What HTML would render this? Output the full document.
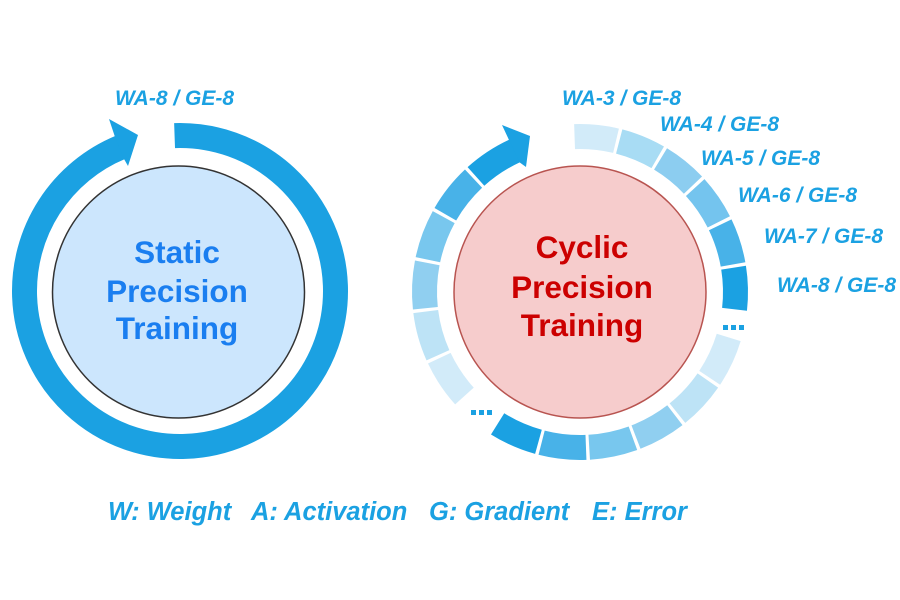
<!DOCTYPE html>
<html><head><meta charset="utf-8"><style>
html,body{margin:0;padding:0;background:#fff;}
svg{display:block;}
text{font-family:"Liberation Sans",Arial,sans-serif;font-weight:bold;}
.lb{font-style:italic;fill:#1ba1e2;font-size:21px;}
</style></head><body>
<svg width="900" height="600" viewBox="0 0 900 600" xmlns="http://www.w3.org/2000/svg">
<!-- Left ring -->
<circle cx="180" cy="291" r="155.5" fill="none" stroke="#1ba1e2" stroke-width="25" pathLength="360" stroke-dasharray="339.5 20.5" transform="rotate(-92 180 291)"/>
<polygon points="109,119 138,135 128,166 124,159 115,137" fill="#1ba1e2"/>
<circle cx="178.5" cy="292" r="126" fill="#cce6fd" stroke="#333" stroke-width="1.5"/>
<text x="177" y="263" text-anchor="middle" font-size="31.5" fill="#1a7ef0">Static</text>
<text x="177" y="302" text-anchor="middle" font-size="31.5" fill="#1a7ef0">Precision</text>
<text x="177" y="339" text-anchor="middle" font-size="31.5" fill="#1a7ef0">Training</text>
<text class="lb" x="115" y="105">WA-8 / GE-8</text>

<!-- Right ring segments -->
<g fill="none" stroke-width="25">
<circle cx="580" cy="292" r="155.5" pathLength="360" stroke-dasharray="15.4 344.6" stroke="#d2ebf9" transform="rotate(-92 580 292)"/>
<circle cx="580" cy="292" r="155.5" pathLength="360" stroke-dasharray="15.4 344.6" stroke="#a8dcf4" transform="rotate(-75.4 580 292)"/>
<circle cx="580" cy="292" r="155.5" pathLength="360" stroke-dasharray="15.4 344.6" stroke="#8ccdf0" transform="rotate(-58.8 580 292)"/>
<circle cx="580" cy="292" r="155.5" pathLength="360" stroke-dasharray="15.4 344.6" stroke="#74c4ee" transform="rotate(-42.2 580 292)"/>
<circle cx="580" cy="292" r="155.5" pathLength="360" stroke-dasharray="15.4 344.6" stroke="#48b2e8" transform="rotate(-25.6 580 292)"/>
<circle cx="580" cy="292" r="155.5" pathLength="360" stroke-dasharray="15.4 344.6" stroke="#1ba1e2" transform="rotate(-9 580 292)"/>
<circle cx="580" cy="292" r="155.5" pathLength="360" stroke-dasharray="16.5 343.5" stroke="#d2ebf9" transform="rotate(17 580 292)"/>
<circle cx="580" cy="292" r="155.5" pathLength="360" stroke-dasharray="16.5 343.5" stroke="#bde3f6" transform="rotate(34.7 580 292)"/>
<circle cx="580" cy="292" r="155.5" pathLength="360" stroke-dasharray="16.5 343.5" stroke="#90cff0" transform="rotate(52.4 580 292)"/>
<circle cx="580" cy="292" r="155.5" pathLength="360" stroke-dasharray="16.5 343.5" stroke="#78c7ee" transform="rotate(70.1 580 292)"/>
<circle cx="580" cy="292" r="155.5" pathLength="360" stroke-dasharray="16.5 343.5" stroke="#48b2e8" transform="rotate(87.8 580 292)"/>
<circle cx="580" cy="292" r="155.5" pathLength="360" stroke-dasharray="16.5 343.5" stroke="#1ba1e2" transform="rotate(105.5 580 292)"/>
<circle cx="580" cy="292" r="155.5" pathLength="360" stroke-dasharray="16.8 343.2" stroke="#d2ebf9" transform="rotate(138 580 292)"/>
<circle cx="580" cy="292" r="155.5" pathLength="360" stroke-dasharray="16.8 343.2" stroke="#bde3f6" transform="rotate(156 580 292)"/>
<circle cx="580" cy="292" r="155.5" pathLength="360" stroke-dasharray="16.8 343.2" stroke="#90cff0" transform="rotate(174 580 292)"/>
<circle cx="580" cy="292" r="155.5" pathLength="360" stroke-dasharray="16.8 343.2" stroke="#78c7ee" transform="rotate(192 580 292)"/>
<circle cx="580" cy="292" r="155.5" pathLength="360" stroke-dasharray="16.8 343.2" stroke="#48b2e8" transform="rotate(210 580 292)"/>
<circle cx="580" cy="292" r="155.5" pathLength="360" stroke-dasharray="17.2 342.8" stroke="#1ba1e2" transform="rotate(228 580 292)"/>
</g>
<polygon points="502,125 530,136 526,167 519.6,162.4 509,140" fill="#1ba1e2"/>
<g fill="#1ba1e2">
<rect x="723" y="325" width="5" height="5"/><rect x="731" y="325" width="5" height="5"/><rect x="739" y="325" width="5" height="5"/>
<rect x="471" y="410" width="5" height="5"/><rect x="479" y="410" width="5" height="5"/><rect x="487" y="410" width="5" height="5"/>
</g>
<circle cx="580" cy="292" r="126" fill="#f6cccc" stroke="#b85450" stroke-width="1.5"/>
<text x="582" y="258" text-anchor="middle" font-size="31.5" fill="#cc0000">Cyclic</text>
<text x="582" y="298" text-anchor="middle" font-size="31.5" fill="#cc0000">Precision</text>
<text x="582" y="336" text-anchor="middle" font-size="31.5" fill="#cc0000">Training</text>

<text class="lb" x="562" y="105">WA-3 / GE-8</text>
<text class="lb" x="660" y="131">WA-4 / GE-8</text>
<text class="lb" x="701" y="165">WA-5 / GE-8</text>
<text class="lb" x="738" y="202">WA-6 / GE-8</text>
<text class="lb" x="764" y="243">WA-7 / GE-8</text>
<text class="lb" x="777" y="292">WA-8 / GE-8</text>

<g font-style="italic" font-size="25.5" fill="#1ba1e2">
<text x="108" y="520">W: Weight</text>
<text x="251" y="520">A: Activation</text>
<text x="429" y="520">G: Gradient</text>
<text x="592" y="520">E: Error</text>
</g>
</svg>
</body></html>
